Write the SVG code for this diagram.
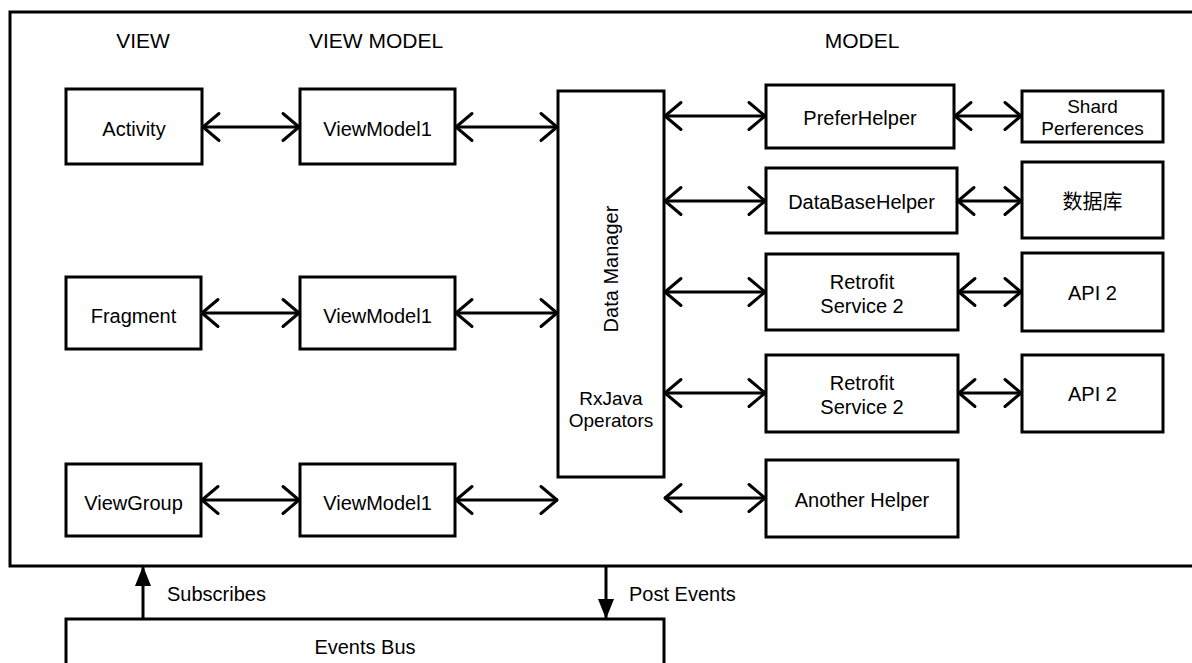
<svg xmlns="http://www.w3.org/2000/svg" width="1192" height="663" viewBox="0 0 1192 663">
  <defs>
    <style>
      .box { fill: #ffffff; stroke: #000000; stroke-width: 3; }
      .frame { fill: none; stroke: #000000; stroke-width: 3; }
      .t { font-family: "Liberation Sans", Arial, "Noto Sans CJK SC", sans-serif; font-size: 20px; fill: #000000; text-anchor: middle; }
      .sm { font-size: 19px; }
      .hd { font-size: 21px; }
      .lbl { text-anchor: start; }
      .link { fill: none; stroke: #000000; stroke-width: 3; marker-start: url(#chev); marker-end: url(#chev); }
      .flow { fill: none; stroke: #000000; stroke-width: 3; marker-end: url(#tri); }
    </style>
    <marker id="chev" markerUnits="userSpaceOnUse" viewBox="-20 -16 22 32" markerWidth="22" markerHeight="32" refX="0" refY="0" orient="auto-start-reverse">
      <path d="M -17 -13.5 L -1 0 L -17 13.5" fill="none" stroke="#000000" stroke-width="3" stroke-linecap="round" stroke-linejoin="round"/>
    </marker>
    <marker id="tri" markerUnits="userSpaceOnUse" viewBox="-20 -9 21 18" markerWidth="21" markerHeight="18" refX="0" refY="0" orient="auto">
      <path d="M -20 -8 L 0 0 L -20 8 Z" fill="#000000"/>
    </marker>
  </defs>

  <!-- application boundary -->
  <rect class="frame" x="10" y="12" width="1200" height="554"/>

  <!-- layer headings -->
  <text class="t hd" x="143" y="48">VIEW</text>
  <text class="t hd" x="376" y="48">VIEW MODEL</text>
  <text class="t hd" x="862" y="48">MODEL</text>

  <!-- view layer -->
  <g id="activity"><rect class="box" x="66" y="89" width="136" height="75"/><text class="t" x="134" y="135.5">Activity</text></g>
  <g id="fragment"><rect class="box" x="66" y="277" width="135" height="72"/><text class="t" x="133.5" y="322.5">Fragment</text></g>
  <g id="viewgroup"><rect class="box" x="66" y="464" width="135" height="72"/><text class="t" x="133.5" y="509.5">ViewGroup</text></g>

  <!-- view model layer -->
  <g id="viewmodel-1"><rect class="box" x="300" y="89" width="155" height="75"/><text class="t" x="377.5" y="135.5">ViewModel1</text></g>
  <g id="viewmodel-2"><rect class="box" x="300" y="277" width="155" height="72"/><text class="t" x="377.5" y="322.5">ViewModel1</text></g>
  <g id="viewmodel-3"><rect class="box" x="300" y="464" width="155" height="72"/><text class="t" x="377.5" y="509.5">ViewModel1</text></g>

  <!-- data manager -->
  <g id="data-manager">
    <rect class="box" x="558" y="91" width="106" height="386"/>
    <text class="t" transform="translate(618 269) rotate(-90)">Data Manager</text>
    <text class="t sm" x="611" y="405">RxJava</text>
    <text class="t sm" x="611" y="427">Operators</text>
  </g>

  <!-- model helpers -->
  <g id="prefer-helper"><rect class="box" x="766" y="85" width="188" height="63"/><text class="t" x="860" y="124.5">PreferHelper</text></g>
  <g id="database-helper"><rect class="box" x="766" y="168" width="191" height="65"/><text class="t" x="861.5" y="209">DataBaseHelper</text></g>
  <g id="retrofit-service-a"><rect class="box" x="766" y="254" width="192" height="76"/><text class="t" x="862" y="288.5">Retrofit</text><text class="t" x="862" y="312.5">Service 2</text></g>
  <g id="retrofit-service-b"><rect class="box" x="766" y="355" width="192" height="77"/><text class="t" x="862" y="389.5">Retrofit</text><text class="t" x="862" y="413.5">Service 2</text></g>
  <g id="another-helper"><rect class="box" x="766" y="460" width="192" height="77"/><text class="t" x="862" y="507">Another Helper</text></g>

  <!-- storage and remote endpoints -->
  <g id="shared-preferences"><rect class="box" x="1022" y="91" width="141" height="51"/><text class="t sm" x="1092.5" y="113">Shard</text><text class="t sm" x="1092.5" y="135">Perferences</text></g>
  <g id="database"><rect class="box" x="1022" y="162" width="141" height="76"/><text class="t" x="1092.5" y="208.5">数据库</text></g>
  <g id="api-a"><rect class="box" x="1022" y="253" width="141" height="78"/><text class="t" x="1092.5" y="300">API 2</text></g>
  <g id="api-b"><rect class="box" x="1022" y="355" width="141" height="77"/><text class="t" x="1092.5" y="401">API 2</text></g>

  <!-- event bus -->
  <g id="events-bus">
    <rect class="box" x="66" y="619" width="598" height="60"/>
    <text class="t" x="365" y="654">Events Bus</text>
  </g>

  <!-- connectors -->
  <g id="connectors">
    <path class="link" d="M 202 127 L 300 127"/>
    <path class="link" d="M 455 127 L 558 127"/>
    <path class="link" d="M 201 313 L 300 313"/>
    <path class="link" d="M 455 313 L 558 313"/>
    <path class="link" d="M 201 500 L 300 500"/>
    <path class="link" d="M 455 500 L 558 500"/>

    <path class="link" d="M 664 116 L 766 116"/>
    <path class="link" d="M 664 201 L 766 201"/>
    <path class="link" d="M 664 292 L 766 292"/>
    <path class="link" d="M 664 393 L 766 393"/>
    <path class="link" d="M 664 498 L 766 498"/>

    <path class="link" d="M 954 116 L 1022 116"/>
    <path class="link" d="M 957 201 L 1022 201"/>
    <path class="link" d="M 958 292 L 1022 292"/>
    <path class="link" d="M 958 393 L 1022 393"/>

    <path class="flow" d="M 143 619 L 143 566"/>
    <path class="flow" d="M 606 566 L 606 619"/>
    <text class="t lbl" x="167" y="601">Subscribes</text>
    <text class="t lbl" x="629" y="601">Post Events</text>
  </g>
</svg>
